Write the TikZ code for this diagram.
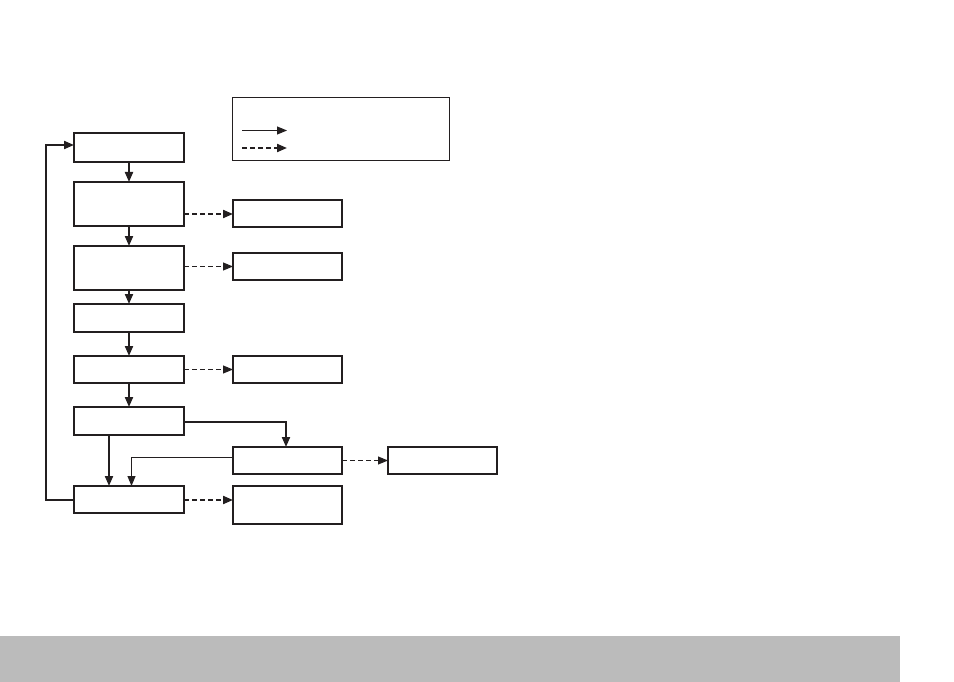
\documentclass[tikz,border=0pt]{standalone}
\usetikzlibrary{arrows.meta}
\definecolor{barcol}{HTML}{BBBBBB}
\definecolor{ink}{HTML}{231F20}
\begin{document}
\begin{tikzpicture}[x=1pt,y=-1pt,
  box/.style={draw=ink, line width=2pt, inner sep=0pt, outer sep=0pt, minimum width=110pt},
  rbox/.style={draw=ink, line width=2pt, inner sep=0pt, outer sep=0pt, minimum width=109pt},
  tip/.style={-{Triangle[length=10pt,width=8pt]}},
  flow/.style={draw=ink, line width=2pt, tip},
  thinflow/.style={draw=ink, line width=1pt, tip},
  dflow/.style={draw=ink, line width=2pt, dash pattern=on 5pt off 3pt, tip},
  ddflow/.style={draw=ink, line width=1pt, dash pattern=on 5pt off 3pt, tip}]
\useasboundingbox (0,0) rectangle (954,682);
\fill[barcol] (0,636) rectangle (900,682);

% left column
\node[box, minimum height=29pt] (A) at (129,147.5) {};
\node[box, minimum height=44pt] (B) at (129,204) {};
\node[box, minimum height=44pt] (D) at (129,268) {};
\node[box, minimum height=28pt] (E) at (129,318) {};
\node[box, minimum height=27pt] (F) at (129,369.5) {};
\node[box, minimum height=28pt] (G) at (129,421) {};
\node[box, minimum height=27pt] (J) at (129,499.5) {};

% right column
\node[rbox, minimum height=27pt] (C1) at (287.5,213.5) {};
\node[rbox, minimum height=27pt] (C2) at (287.5,266.5) {};
\node[rbox, minimum height=27pt] (C3) at (287.5,369.5) {};
\node[rbox, minimum height=27pt] (H) at (287.5,460.5) {};
\node[rbox, minimum height=27pt] (I) at (442.5,460.5) {};
\node[rbox, minimum height=38pt] (K) at (287.5,505) {};

% legend
\node[draw=ink, line width=1pt, inner sep=0pt, minimum width=217pt, minimum height=63pt] (L) at (340.5,129.5) {};
\coordinate (l1a) at (242,130.5);
\coordinate (l1b) at (287,130.5);
\coordinate (l2a) at (242,148);
\coordinate (l2b) at (287,148);
\draw[thinflow] (l1a) -- (l1b);
\draw[dflow] (l2a) -- (l2b);

% vertical flow
\draw[flow] (A.south) -- (B.north);
\draw[flow] (B.south) -- (D.north);
\draw[flow] (D.south) -- (E.north);
\draw[flow] (E.south) -- (F.north);
\draw[flow] (F.south) -- (G.north);
\draw[flow] ([xshift=-20pt]G.south) -- ([xshift=-20pt]J.north);
\draw[flow] ([yshift=-0.5pt]G.east) -| ([xshift=-1.5pt]H.north);
\draw[thinflow] ([yshift=3pt]H.west) -| ([xshift=2.5pt]J.north);
\draw[flow] ([yshift=-0.5pt]J.west) -- ++(-28,0) |- ([yshift=2.5pt]A.west);

% dashed
\draw[dflow] ([yshift=-0.5pt]B.east |- C1.west) -- ([yshift=-0.5pt]C1.west);
\draw[ddflow] (D.east |- C2.west) -- (C2.west);
\draw[ddflow] (F.east) -- (C3.west);
\draw[ddflow] (H.east) -- (I.west);
\draw[dflow] ([yshift=-0.5pt]J.east) -- ([yshift=-0.5pt]K.west |- J.east);
\end{tikzpicture}
\end{document}
